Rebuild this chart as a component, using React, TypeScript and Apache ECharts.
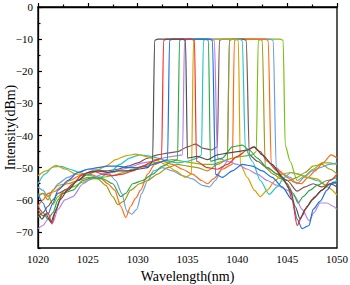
import React, { useEffect, useRef } from "react";
import * as echarts from "echarts";

type Pt = [number, number];

const xTicks = [1020, 1025, 1030, 1035, 1040, 1045, 1050];
const yMajorTicks = [0, -10, -20, -30, -40, -50, -60, -70];
const yMinorTicks = [-5, -15, -25, -35, -45, -55, -65, -75];

const black: Pt[] = [[1020,-64],[1020.4,-66],[1020.8,-64.5],[1021.3,-67],[1021.7,-64],[1022.2,-60],[1023,-57],[1024,-54],[1025,-51.5],[1026,-51],[1027,-51.5],[1028,-51],[1029,-51],[1030,-50.5],[1031,-50],[1031.5,-48],[1031.7,-10.4],[1032,-10],[1034.5,-10],[1034.8,-10.4],[1035,-47],[1036,-46.5],[1037,-47.5],[1038,-46],[1039,-45.5],[1040,-45],[1041,-44.5],[1041.7,-43.5],[1042.5,-46],[1043.5,-49],[1044.5,-53],[1045.3,-57],[1045.8,-62],[1046.3,-66],[1046.8,-63],[1047.5,-60],[1048.5,-57],[1049.3,-55],[1050,-56]];
const red: Pt[] = [[1020,-63],[1020.5,-65],[1021,-64],[1021.4,-67.5],[1021.8,-63],[1022.5,-58],[1023.5,-55],[1024.5,-52],[1025.5,-51],[1026.5,-52],[1027.5,-52.5],[1028.5,-52],[1029.5,-51],[1030.5,-49.5],[1031.5,-48],[1032.4,-47],[1032.6,-10.4],[1032.9,-10],[1035.4,-10],[1035.7,-10.4],[1035.9,-48],[1037,-50],[1038,-50.5],[1039,-49],[1040,-46.5],[1041,-44.5],[1041.6,-43.5],[1042.3,-45],[1043,-48],[1044,-51],[1045,-55],[1045.5,-60],[1046,-68],[1046.5,-65],[1047,-62],[1047.8,-59],[1048.5,-57],[1049.3,-54],[1050,-52]];
const blue: Pt[] = [[1020,-58],[1020.5,-61],[1021,-64.5],[1021.5,-61],[1022,-57],[1023,-54],[1024,-51.5],[1025,-50.5],[1026,-50],[1027,-49.5],[1028,-49.5],[1029,-50],[1030,-50],[1031,-49.5],[1032,-48.5],[1033,-47.5],[1033.2,-10.4],[1033.5,-10],[1037.2,-10],[1037.5,-10.4],[1037.8,-52],[1038.5,-53],[1039.5,-51],[1040.5,-49],[1041.5,-49.5],[1042.5,-51],[1043.5,-53],[1044.5,-56],[1045.5,-60],[1046,-66],[1046.5,-69],[1047.2,-68],[1047.6,-63],[1048.3,-60.5],[1049,-57],[1049.6,-54.5],[1050,-55]];
const green: Pt[] = [[1020,-65.5],[1020.5,-64],[1021,-66],[1021.5,-64],[1022,-60],[1022.5,-58],[1023.5,-57],[1024.5,-54],[1025.5,-53],[1026.5,-53.5],[1027.5,-55],[1028.3,-59],[1028.8,-58],[1029.5,-55],[1030.5,-54],[1031.5,-52],[1032.5,-49.5],[1033.5,-48],[1034,-47.5],[1034.2,-10.4],[1034.5,-10],[1036.8,-10],[1037.1,-10.4],[1037.3,-48],[1038.5,-47],[1039.5,-43.5],[1040.5,-43],[1041.2,-44.5],[1042,-47],[1043,-50],[1044,-52],[1045,-55],[1045.6,-58],[1046.1,-61],[1046.6,-59],[1047.3,-57],[1048,-55.5],[1049,-54],[1050,-53]];
const purple: Pt[] = [[1020,-69],[1020.5,-68],[1021,-66],[1021.5,-67],[1022,-63],[1022.7,-60],[1023.5,-59],[1024.5,-55],[1025.5,-53],[1026.5,-52],[1027.5,-51.5],[1028.5,-50.5],[1029.5,-49.5],[1030.5,-48.5],[1031.5,-48],[1032.5,-47],[1033.5,-46.5],[1034.5,-46],[1034.7,-10.4],[1035,-10],[1037.4,-10],[1037.7,-10.4],[1038,-47],[1039,-48],[1040,-49],[1041,-50.5],[1042,-52],[1043,-54],[1044,-55.5],[1045,-57],[1045.8,-59],[1046.5,-63],[1047.2,-66.5],[1047.7,-64],[1048.3,-61],[1049,-61],[1049.6,-62],[1050,-63]];
const gold: Pt[] = [[1020,-52.5],[1020.8,-51],[1021.8,-49.3],[1022.8,-50.5],[1023.8,-52],[1024.8,-52],[1025.8,-51],[1026.8,-49.5],[1027.8,-47.5],[1028.8,-46.3],[1029.8,-45.8],[1030.8,-46.5],[1031.8,-47.5],[1032.8,-49],[1033.8,-51],[1034.8,-53],[1035.4,-52],[1035.6,-10.4],[1035.9,-10],[1039.8,-10],[1040.1,-10.4],[1040.3,-49],[1041,-53],[1041.7,-57],[1042.3,-59],[1043,-57],[1043.8,-54],[1044.5,-52],[1045.3,-51.5],[1046,-52],[1047,-53],[1048,-53.5],[1049,-56],[1050,-58.5]];
const cyan: Pt[] = [[1020,-55],[1020.7,-52],[1021.5,-49.8],[1022.3,-49.6],[1023.2,-50.5],[1024.2,-51.5],[1025.2,-52.5],[1026.2,-53],[1027.2,-51.5],[1028.2,-49],[1029.2,-47],[1030.2,-46],[1031,-46.3],[1032,-47],[1033,-48],[1034,-48.5],[1035,-48],[1036,-47],[1036.4,-46],[1036.6,-10.4],[1036.9,-10],[1040.2,-10],[1040.5,-10.4],[1040.8,-44],[1041.5,-48],[1042.3,-54],[1043.2,-58.3],[1044,-56],[1044.7,-53],[1045.4,-51.5],[1046.2,-52],[1047,-53],[1048,-54],[1049,-55.5],[1050,-54]];
const brown: Pt[] = [[1020,-62],[1020.5,-64],[1021,-62],[1021.5,-60],[1022,-58],[1023,-56.5],[1024,-54],[1025,-52],[1026,-51],[1027,-51],[1028,-50.5],[1029,-49.5],[1030,-48.5],[1031,-47],[1032,-46],[1033,-45.5],[1034,-45],[1035,-43.5],[1035.8,-42.7],[1036.6,-44],[1037.4,-44.5],[1038,-43.5],[1038.2,-10.4],[1038.5,-10],[1040.6,-10],[1040.9,-10.4],[1041.2,-46],[1042,-48],[1043,-50],[1044,-52],[1045,-54],[1046,-57.3],[1046.8,-56],[1047.6,-55],[1048.5,-56],[1049.3,-55],[1050,-54.5]];
const orange: Pt[] = [[1020,-62],[1020.5,-60],[1021,-58],[1021.6,-57.5],[1022.3,-56],[1023.2,-54],[1024.2,-52.5],[1025.2,-52],[1026.2,-53],[1027,-55],[1027.7,-57],[1028.3,-62],[1028.8,-65.5],[1029.3,-62],[1029.8,-59.5],[1030.3,-57],[1031,-52],[1031.7,-49],[1032.5,-48],[1033.5,-49],[1034.5,-50.5],[1035.5,-52],[1036.4,-54],[1037,-55],[1037.6,-53.5],[1038.5,-50.5],[1039.5,-49],[1039.7,-10.4],[1040,-10],[1042.8,-10],[1043.1,-10.4],[1043.4,-49],[1044.2,-51],[1045,-53],[1045.7,-54.5],[1046.4,-55],[1047.1,-53],[1047.8,-51],[1048.6,-48.5],[1049.4,-46],[1050,-47]];
const olive: Pt[] = [[1020,-59],[1020.5,-58],[1021,-60],[1021.5,-57],[1022,-55.5],[1023,-55],[1024,-54],[1025,-53],[1026,-53.5],[1026.8,-55.5],[1027.5,-59],[1028,-61.5],[1028.6,-60.5],[1029.3,-57],[1030.2,-55],[1031,-54],[1032,-52],[1033,-50],[1034,-49],[1035,-49.5],[1036,-50],[1037,-51],[1038,-49],[1039,-47.5],[1039.2,-10.4],[1039.5,-10],[1042.2,-10],[1042.5,-10.4],[1042.8,-50],[1043.6,-52],[1044.4,-53.5],[1045.2,-54],[1046,-53],[1046.8,-51.5],[1047.6,-49.5],[1048.5,-49],[1049.3,-50.5],[1050,-52]];
const lightBlue: Pt[] = [[1020,-56],[1020.5,-57],[1021,-59],[1021.5,-57],[1022,-55],[1023,-53],[1024,-51.5],[1025,-50.5],[1026,-50.5],[1027,-51.5],[1027.8,-54],[1028.4,-58],[1028.9,-63.5],[1029.4,-64.5],[1029.9,-63],[1030.4,-58],[1031,-54],[1031.6,-51],[1032.5,-50],[1033.5,-51],[1034.5,-52.5],[1035.5,-53.5],[1036.5,-55.5],[1037.2,-56],[1037.8,-54],[1038.5,-50],[1039,-48],[1039.2,-10.4],[1039.5,-10],[1043.3,-10],[1043.6,-10.4],[1043.9,-50],[1044.6,-52],[1045.3,-53],[1046,-55],[1046.7,-53],[1047.5,-51],[1048.3,-50],[1049.2,-49],[1050,-48.5]];
const yellowGreen: Pt[] = [[1020,-58.5],[1020.5,-58],[1021,-58.5],[1021.5,-61.5],[1022,-59],[1022.7,-57],[1023.5,-56],[1024.5,-54.5],[1025.5,-53.5],[1026.5,-53],[1027.5,-52.5],[1028.5,-51.5],[1029.5,-50.5],[1030.5,-49.5],[1031.5,-48.5],[1032.5,-48],[1033.5,-47.5],[1034.5,-48],[1035.5,-48.5],[1036.5,-49],[1037.5,-49],[1038.5,-48],[1039.5,-47],[1040.5,-46.5],[1041.5,-46],[1041.9,-45],[1042.1,-10.4],[1042.4,-10],[1044.3,-10],[1044.6,-10.4],[1044.8,-43],[1045.3,-48],[1046,-54],[1046.8,-52.5],[1047.6,-50.5],[1048.5,-48.5],[1049.3,-48.5],[1050,-49]];

const seriesList: { data: Pt[]; color: string }[] = [
  { data: yellowGreen, color: "#7cbd14" },
  { data: lightBlue, color: "#6c9fe0" },
  { data: olive, color: "#a19a16" },
  { data: orange, color: "#ff6a12" },
  { data: brown, color: "#7f5757" },
  { data: cyan, color: "#22c6c6" },
  { data: gold, color: "#d4a200" },
  { data: purple, color: "#b483e6" },
  { data: green, color: "#2fa84c" },
  { data: blue, color: "#1f6fe6" },
  { data: red, color: "#f2302c" },
  { data: black, color: "#4e4e4e" },
];

const FONT = "Liberation Serif, Times New Roman, serif";
const fmtMinus = (v: number) => String(v).replace("-", "\u2212");

export default function App() {
  const ref = useRef<HTMLDivElement>(null);
  useEffect(() => {
    if (!ref.current) return;
    const chart = echarts.init(ref.current, undefined, { renderer: "svg" });
    chart.setOption({
      animation: false,
      backgroundColor: "#fff",
      grid: {
        left: 38, right: 13, top: 7, bottom: 37,
        containLabel: false,
        outerBoundsMode: "none",
        show: true, borderColor: "#000", borderWidth: 1.3,
      },
      xAxis: {
        type: "value",
        min: 1020,
        max: 1050,
        interval: 5,
        name: "Wavelength(nm)",
        nameLocation: "middle",
        nameGap: 21,
        nameMoveOverlap: false,
        nameTextStyle: { fontFamily: FONT, fontSize: 14, color: "#000" },
        axisLine: { show: true, lineStyle: { color: "#000", width: 1.3 } },
        axisTick: { show: true, inside: true, length: 4, lineStyle: { color: "#000", width: 1.2 } },
        minorTick: { show: true, splitNumber: 2, length: 2.5, lineStyle: { color: "#000", width: 1.2 } },
        splitLine: { show: false },
        axisLabel: {
          fontFamily: FONT, fontSize: 11, color: "#000", margin: 5,
          customValues: xTicks,
          formatter: (v: number) => String(v),
        },
      },
      yAxis: [
        {
          type: "value",
          min: -75,
          max: 0,
          name: "Intensity(dBm)",
          nameLocation: "middle",
          nameGap: 21,
          nameMoveOverlap: false,
          nameTextStyle: { fontFamily: FONT, fontSize: 14, color: "#000" },
          axisLine: { show: true, lineStyle: { color: "#000", width: 1.3 } },
          axisTick: { show: true, inside: true, length: 4, lineStyle: { color: "#000", width: 1.2 }, customValues: yMajorTicks },
          splitLine: { show: false },
          axisLabel: {
            fontFamily: FONT, fontSize: 11, color: "#000", margin: 5,
            customValues: yMajorTicks,
            formatter: (v: number) => fmtMinus(v),
          },
        },
        {
          type: "value",
          min: -75,
          max: 0,
          position: "left",
          axisLine: { show: false },
          axisTick: { show: true, inside: true, length: 2.5, lineStyle: { color: "#000", width: 1.2 }, customValues: yMinorTicks },
          axisLabel: { show: false },
          splitLine: { show: false },
        },
      ],
      series: seriesList.map((s) => ({
        type: "line",
        data: s.data,
        yAxisIndex: 0,
        showSymbol: false,
        smooth: 0.25,
        smoothMonotone: "x",
        lineStyle: { color: s.color, width: 1.2 },
        itemStyle: { color: s.color },
      })),
    });
    return () => chart.dispose();
  }, []);
  return (
    <div
      ref={ref}
      style={{ position: "absolute", left: 0, top: 0, width: 350, height: 285 }}
    />
  );
}
